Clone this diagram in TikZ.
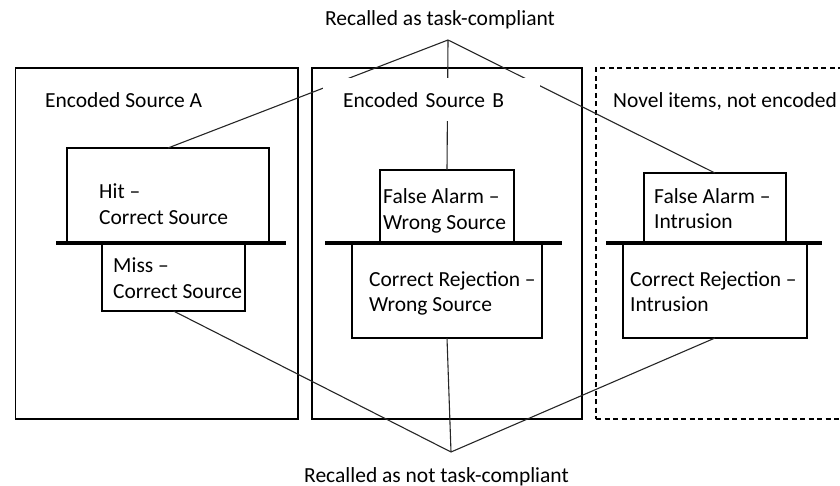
\documentclass[tikz,border=0pt]{standalone}
\usepackage{fontspec}
\setmainfont{Carlito}
\begin{document}
\begin{tikzpicture}[x=1pt,y=-1pt,
  every node/.style={font=\fontsize{21.5pt}{25.5pt}\selectfont, text=black},
  frame/.style={draw=black, line width=1.3pt, inner sep=0pt, outer sep=0pt},
  novelframe/.style={frame, dash pattern=on 5pt off 3.5pt},
  cell/.style={draw=black, line width=1.3pt, inner sep=0pt, outer sep=0pt},
  celltext/.style={align=left, inner sep=0pt, anchor=west},
  heading/.style={inner sep=0pt, anchor=base west},
  caption/.style={inner sep=0pt, anchor=base},
  divider/.style={line width=4.6pt, draw=black},
  conn/.style={draw=black!85, line width=1.1pt}]
  \useasboundingbox (0,0) rectangle (840,486);

  % source regions
  \node[frame, minimum width=282.3pt, minimum height=351pt] (srcA) at (156.85,243.5) {};
  \node[frame, minimum width=270pt, minimum height=351pt] (srcB) at (447,243.5) {};
  \node[novelframe, minimum width=254pt, minimum height=351pt] (novel) at (723,243.5) {};

  % response cells above and below each decision line
  \node[cell, minimum width=202pt, minimum height=95pt] (hit) at (168,195.5) {};
  \node[cell, minimum width=143pt, minimum height=68pt] (miss) at (173.5,277) {};
  \node[cell, minimum width=134pt, minimum height=73pt] (faws) at (447,206.5) {};
  \node[cell, minimum width=190pt, minimum height=95pt] (crws) at (447,290.5) {};
  \node[cell, minimum width=142pt, minimum height=70pt] (faint) at (715,208) {};
  \node[cell, minimum width=184pt, minimum height=95pt] (crint) at (715,290.5) {};

  % decision lines
  \draw[divider] (56,243) -- (286,243);
  \draw[divider] (325,243) -- (562,243);
  \draw[divider] (606,243) -- (822,243);

  % cell texts
  \node[celltext] (hitT) at (99,204) {Hit –\\Correct Source};
  \node[celltext] (missT) at (113,278) {Miss –\\Correct Source};
  \node[celltext] (fawsT) at (383,211) {False Alarm –\\Wrong Source};
  \node[celltext] (crwsT) at (369,293.5) {Correct Rejection –\\Wrong Source};
  \node[celltext] (faintT) at (654,208.5) {False Alarm –\\Intrusion};
  \node[celltext] (crintT) at (630,291.5) {Correct Rejection –\\Intrusion};

  % region headings
  \node[heading] (srcAlab) at (45,108) {Encoded Source A};
  \node[heading] (novellab) at (613,108) {Novel items, not encoded};

  % outcome captions and their joining points
  \node[caption] (compliant) at (440,26) {Recalled as task-compliant};
  \node[caption] (noncompliant) at (436.5,482) {Recalled as not task-compliant};
  \coordinate (topJoin) at (448,40);
  \coordinate (botJoin) at (451,452);

  % connectors
  \draw[conn] (topJoin) -- (hit.north);
  \draw[conn] (topJoin) -- (faws.north);
  \draw[conn] (topJoin) -- (faint.north);
  \draw[conn] (botJoin) -- (miss.south);
  \draw[conn] (botJoin) -- (crws.south);
  \draw[conn] (botJoin) -- (crint.south);

  % heading of source B sits on a white patch over the connectors
  \node[fill=white, inner xsep=20pt, inner ysep=0pt, text width=177pt,
        minimum height=43pt, anchor=west] (srcBlab) at (323,100) {Encoded Source B};
\end{tikzpicture}
\end{document}
